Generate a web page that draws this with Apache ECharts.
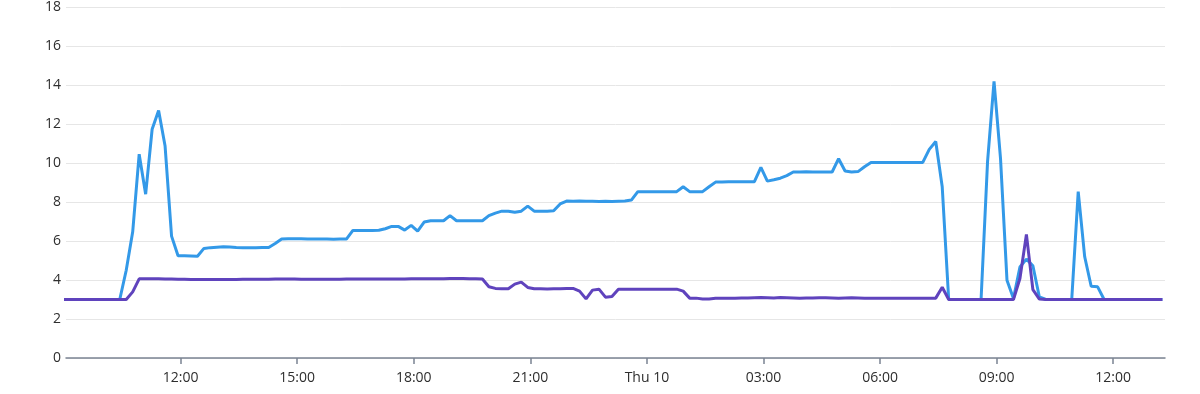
<!DOCTYPE html>
<html>
<head>
<meta charset="utf-8">
<script src="https://cdn.jsdelivr.net/npm/echarts@6/dist/echarts.min.js"></script>
<style>
html,body{margin:0;padding:0;background:#fff;}
#chart{width:1200px;height:394px;}
</style>
</head>
<body>
<div id="chart"></div>
<script>
// Sampling: every 10 minutes starting Wed 08:56 (minutes since Wed 00:00)
const startMinute = 536;
const stepMinutes = 10;

// Tick positions (hours since Wed 00:00) and their labels
const tickHours = [12, 15, 18, 21, 24, 27, 30, 33, 36];
const tickLabels = ['12:00', '15:00', '18:00', '21:00', 'Thu 10', '03:00', '06:00', '09:00', '12:00'];

// Axis range (hours since Wed 00:00): 09:03 Wed to 13:20 Thu
const xMin = 9 + 3 / 60;
const xMax = 37 + 20 / 60;

const blueValues = [
  3,3,3,3,3,3,3,3,3,3,
  4.5,6.47,10.45,8.4,11.73,12.69,10.87,6.25,5.24,5.24,
  5.23,5.22,5.62,5.66,5.68,5.7,5.69,5.67,5.66,5.66,
  5.66,5.67,5.67,5.87,6.1,6.12,6.12,6.11,6.1,6.1,
  6.1,6.1,6.09,6.1,6.1,6.54,6.54,6.54,6.54,6.55,
  6.63,6.75,6.75,6.56,6.8,6.51,6.97,7.04,7.04,7.04,
  7.3,7.04,7.04,7.04,7.04,7.04,7.3,7.43,7.53,7.53,
  7.47,7.53,7.79,7.53,7.53,7.53,7.55,7.9,8.05,8.04,
  8.05,8.04,8.04,8.03,8.04,8.03,8.04,8.05,8.1,8.53,
  8.53,8.53,8.53,8.53,8.53,8.53,8.78,8.53,8.53,8.53,
  8.78,9.02,9.02,9.04,9.04,9.04,9.04,9.04,9.78,9.07,
  9.14,9.22,9.35,9.54,9.54,9.55,9.54,9.54,9.54,9.54,
  10.22,9.59,9.54,9.56,9.81,10.03,10.03,10.03,10.03,10.03,
  10.03,10.03,10.03,10.03,10.7,11.1,8.78,3,3,3,
  3,3,3,10.07,14.18,10.24,3.99,3.05,4.67,5.07,
  4.73,3.13,3,3,3,3,3,8.53,5.19,3.68,
  3.65,3,3,3,3,3,3,3,3,3,
  3
];

const purpleValues = [
  3,3,3,3,3,3,3,3,3,3,
  3,3.39,4.06,4.06,4.06,4.06,4.05,4.05,4.04,4.04,
  4.03,4.03,4.03,4.03,4.03,4.03,4.03,4.03,4.04,4.04,
  4.04,4.04,4.04,4.05,4.05,4.05,4.05,4.04,4.04,4.04,
  4.04,4.04,4.04,4.04,4.05,4.05,4.05,4.05,4.05,4.05,
  4.05,4.05,4.05,4.05,4.06,4.06,4.06,4.07,4.07,4.07,
  4.08,4.08,4.08,4.07,4.06,4.05,3.65,3.57,3.55,3.55,
  3.79,3.89,3.62,3.55,3.55,3.54,3.55,3.55,3.56,3.57,
  3.43,3.03,3.48,3.53,3.12,3.15,3.53,3.53,3.53,3.53,
  3.53,3.53,3.53,3.53,3.53,3.53,3.43,3.07,3.07,3.03,
  3.03,3.06,3.07,3.07,3.07,3.08,3.08,3.09,3.1,3.09,
  3.08,3.1,3.09,3.08,3.07,3.08,3.08,3.09,3.09,3.08,
  3.07,3.08,3.09,3.08,3.07,3.06,3.07,3.06,3.07,3.06,
  3.06,3.07,3.07,3.07,3.07,3.07,3.63,3,3,3,
  3,3,3,3,3,3,3,3,4.08,6.34,
  3.51,3.02,3,3,3,3,3,3,3,3,
  3,3,3,3,3,3,3,3,3,3,
  3
];

const yTicks = { min: 0, max: 18, interval: 2 };

function toPairs(values) {
  return values.map((v, i) => [(startMinute + i * stepMinutes) / 60, v]);
}

const chart = echarts.init(document.getElementById('chart'), null, { renderer: 'canvas' });
const fontFamily = '"Open Sans", "Noto Sans", sans-serif';

chart.setOption({
  animation: false,
  backgroundColor: '#ffffff',
  grid: { left: 66, right: 35, top: 7, bottom: 36, containLabel: false },
  xAxis: {
    type: 'value',
    min: xMin,
    max: xMax,
    axisLine: { show: true, lineStyle: { color: '#7b8492', width: 1.5 } },
    axisTick: { show: true, customValues: tickHours, length: 6, lineStyle: { color: '#7b8492', width: 1.5 } },
    axisLabel: {
      customValues: tickHours,
      color: '#2e2e2e',
      fontSize: 14,
      fontFamily: fontFamily,
      margin: 13,
      formatter: function (v) {
        const idx = tickHours.findIndex(t => Math.abs(t - v) < 1e-6);
        return idx >= 0 ? tickLabels[idx] : '';
      }
    },
    splitLine: { show: false }
  },
  yAxis: {
    type: 'value',
    min: yTicks.min,
    max: yTicks.max,
    interval: yTicks.interval,
    axisLine: { show: false },
    axisTick: { show: false },
    axisLabel: { color: '#2e2e2e', fontSize: 14, fontFamily: fontFamily, margin: 5 },
    splitLine: { show: true, lineStyle: { color: '#e6e6e6', width: 1 } }
  },
  series: [
    {
      name: 'blue',
      type: 'line',
      data: toPairs(blueValues),
      showSymbol: false,
      symbol: 'none',
      lineStyle: { color: '#3399e8', width: 3 },
      itemStyle: { color: '#3399e8' },
      z: 2
    },
    {
      name: 'purple',
      type: 'line',
      data: toPairs(purpleValues),
      showSymbol: false,
      symbol: 'none',
      lineStyle: { color: '#5f43bd', width: 3 },
      itemStyle: { color: '#5f43bd' },
      z: 3
    }
  ]
});
</script>
</body>
</html>
